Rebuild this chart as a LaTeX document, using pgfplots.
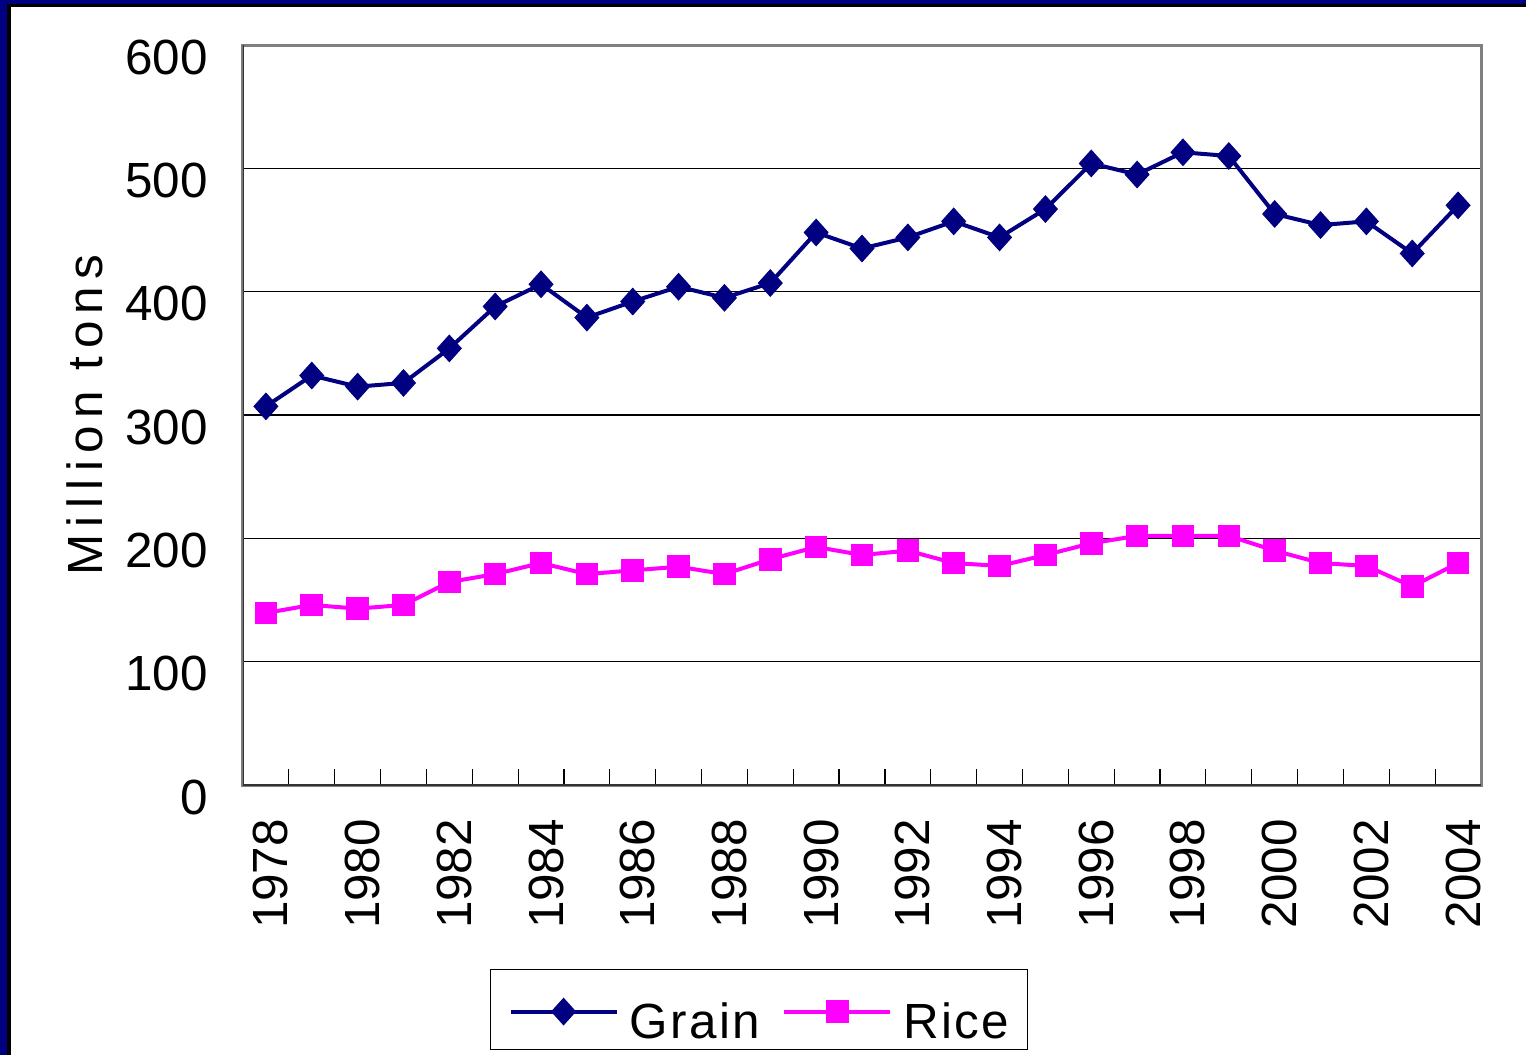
\documentclass[border=0pt]{standalone}
\usepackage{fontspec}
\setmainfont{Liberation Sans}
\usepackage{pgfplots}
\pgfplotsset{compat=1.18}
\definecolor{navyc}{RGB}{0,0,128}
\definecolor{magc}{RGB}{255,0,255}
\definecolor{framegray}{RGB}{128,128,128}
\begin{document}
\begin{tikzpicture}
\path[use as bounding box, fill=white] (-121.5pt,-135pt) rectangle (641.5pt,392.5pt);
\fill[navyc] (-121.5pt,-135pt) rectangle (-118pt,392.5pt);
\fill[black] (-118pt,-135pt) rectangle (-116pt,390.5pt);
\fill[navyc] (-121.5pt,390.5pt) rectangle (641.5pt,392.5pt);
\fill[black] (-118pt,389pt) rectangle (641.5pt,390.5pt);
\begin{axis}[
  at={(0pt,0pt)}, anchor=south west,
  scale only axis, width=619pt, height=370pt,
  xmin=-0.5, xmax=26.5, ymin=0, ymax=600,
  font=\fontsize{24.7}{29}\selectfont,
  /pgf/number format/assume math mode=true,
  axis line style={draw=framegray, line width=1.5pt},
  ytick={0,100,...,600},
  yticklabel style={xshift=-14pt, yshift=-6pt},
  ymajorgrids, grid style={black, line width=0.6pt},
  tick align=inside,
  tick pos=left,
  major tick length=8pt,
  xtick={0.5,1.5,...,25.5},
  xticklabels={},
  extra x ticks={0,2,...,26},
  extra x tick labels={1978,1980,1982,1984,1986,1988,1990,1992,1994,1996,1998,2000,2002,2004},
  extra x tick style={major tick length=0pt, grid=none,
     xticklabel style={yshift=-13.5pt, xshift=2.5pt, rotate=90, anchor=east}},
  xtick style={black, line width=0.6pt},
  ytick style={black, line width=0.8pt},
  ylabel={\addfontfeature{LetterSpace=15}Million tons},
  ylabel style={at={(axis description cs:-0.1276,0.5)}, anchor=center},
  legend columns=2,
  legend style={at={(axis description cs:0.1995,-0.2486)}, anchor=north west,
     draw=black, line width=0.6pt, fill=white, inner xsep=9pt, inner ysep=4pt,
     nodes={inner xsep=0pt, inner ysep=0pt},
     /tikz/every odd column/.append style={column sep=5.5pt},
     /tikz/every even column/.append style={column sep=11pt},
     font=\fontsize{24.7}{29}\selectfont\addfontfeature{LetterSpace=5}},
  legend image code/.code={
     \path[draw=none, fill=none] (0pt,-8.4pt) rectangle (53pt,22.1pt);
     \draw[#1, mark repeat=2, mark phase=2] plot coordinates {(0pt,5.1pt) (26.5pt,5.1pt) (53pt,5.1pt)};
  },
]
\addplot[navyc, line width=2pt, mark=diamond*, mark size=6.6pt,
  mark options={xscale=1.2, fill=navyc, draw=navyc, line width=0.5pt}] coordinates {
(0,307) (1,332) (2,323) (3,326) (4,354) (5,388) (6,406) (7,379) (8,392)
(9,404) (10,395) (11,407) (12,448) (13,435) (14,444) (15,457) (16,444)
(17,467) (18,504) (19,495) (20,513) (21,510) (22,463) (23,454) (24,457)
(25,431) (26,470)};
\addlegendentry{Grain}
\addplot[magc, line width=2pt, mark=square*, mark size=5.4pt,
  mark options={fill=magc, draw=magc, line width=0.5pt}] coordinates {
(0,139.5) (1,146) (2,143) (3,146) (4,164.6) (5,171) (6,180) (7,171) (8,174)
(9,177) (10,171) (11,183) (12,193) (13,186.5) (14,190) (15,180) (16,177.6)
(17,186.5) (18,196) (19,202) (20,202) (21,202) (22,190) (23,180) (24,177.6)
(25,161) (26,180)};
\addlegendentry{Rice}
\draw[black!80, line width=1.3pt] (rel axis cs:0,1) -- (rel axis cs:0,0) -- (rel axis cs:1,0);
\end{axis}
\end{tikzpicture}
\end{document}
